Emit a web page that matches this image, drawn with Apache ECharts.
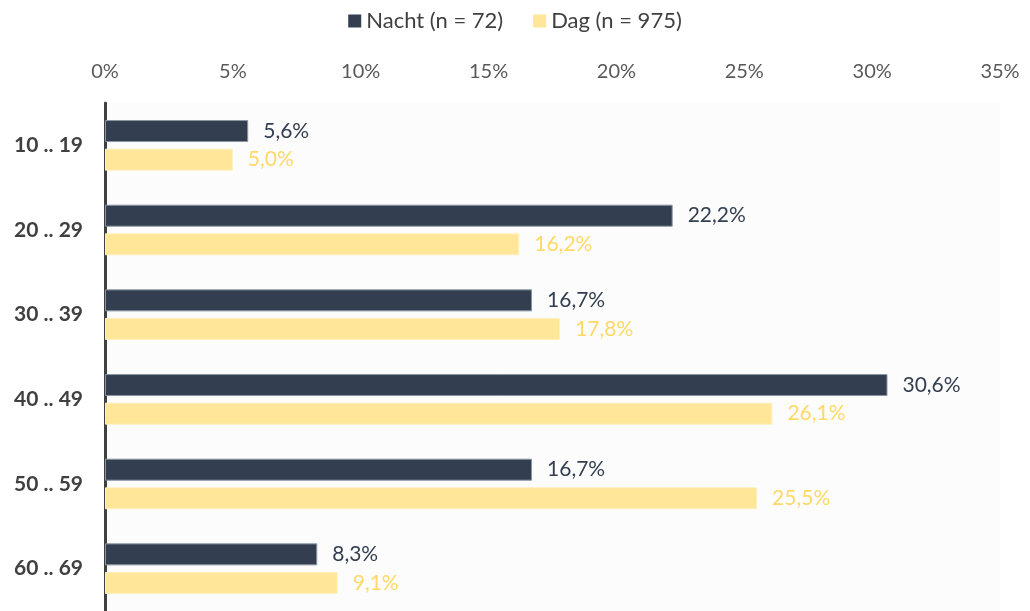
<!DOCTYPE html>
<html>
<head>
<meta charset="utf-8">
<script src="https://cdn.jsdelivr.net/npm/echarts@6/dist/echarts.min.js"></script>
<style>
  html, body { margin: 0; padding: 0; background: #fff; }
  #chart { width: 1030px; height: 611px; }
</style>
</head>
<body>
<div id="chart"></div>
<script>
const categories = ['10 .. 19', '20 .. 29', '30 .. 39', '40 .. 49', '50 .. 59', '60 .. 69']
const nachtValues = [5.6, 22.2, 16.7, 30.6, 16.7, 8.3]
const dagValues = [5.0, 16.2, 17.8, 26.1, 25.5, 9.1]
const seriesNames = ['Nacht (n = 72)', 'Dag (n = 975)']

const fontFamily = 'Lato, "Open Sans", sans-serif'
const fmt = p => p.value.toFixed(1).replace('.', ',') + '%'

const chart = echarts.init(document.getElementById('chart'))
chart.setOption({
  animation: false,
  textStyle: { fontFamily: fontFamily },
  legend: {
    top: 5,
    left: 'center',
    icon: 'rect',
    itemWidth: 13,
    itemHeight: 13,
    itemGap: 30,
    itemStyle: { borderWidth: 0 },
    textStyle: { fontSize: 22, color: '#404040', fontFamily: fontFamily },
    data: seriesNames
  },
  grid: {
    left: 105,
    right: 30,
    top: 103,
    height: 512,
    show: true,
    backgroundColor: '#fcfcfc',
    borderWidth: 0
  },
  xAxis: {
    type: 'value',
    position: 'top',
    min: 0,
    max: 35,
    interval: 5,
    axisLine: { show: false },
    axisTick: { show: false },
    splitLine: { show: false },
    axisLabel: {
      formatter: '{value}%',
      fontSize: 20,
      color: '#595959',
      margin: 21
    }
  },
  yAxis: {
    type: 'category',
    inverse: true,
    data: categories,
    axisLine: { show: true, lineStyle: { color: '#404040', width: 3 } },
    axisTick: { show: false },
    axisLabel: {
      fontSize: 21,
      fontWeight: 'bold',
      color: '#404040',
      margin: 22
    }
  },
  series: [{
    name: seriesNames[0],
    type: 'bar',
    data: nachtValues,
    barWidth: 22,
    barGap: '30%',
    itemStyle: { color: '#333f50', borderColor: '#8c96a3', borderWidth: 1 },
    label: {
      show: true,
      position: 'right',
      distance: 15,
      formatter: fmt,
      fontSize: 21,
      color: '#333f50'
    }
  }, {
    name: seriesNames[1],
    type: 'bar',
    data: dagValues,
    barWidth: 22,
    barGap: '30%',
    itemStyle: { color: '#ffe699', borderColor: '#fff0c0', borderWidth: 1 },
    label: {
      show: true,
      position: 'right',
      distance: 15,
      formatter: fmt,
      fontSize: 21,
      color: '#ffd966'
    }
  }]
})
</script>
</body>
</html>
